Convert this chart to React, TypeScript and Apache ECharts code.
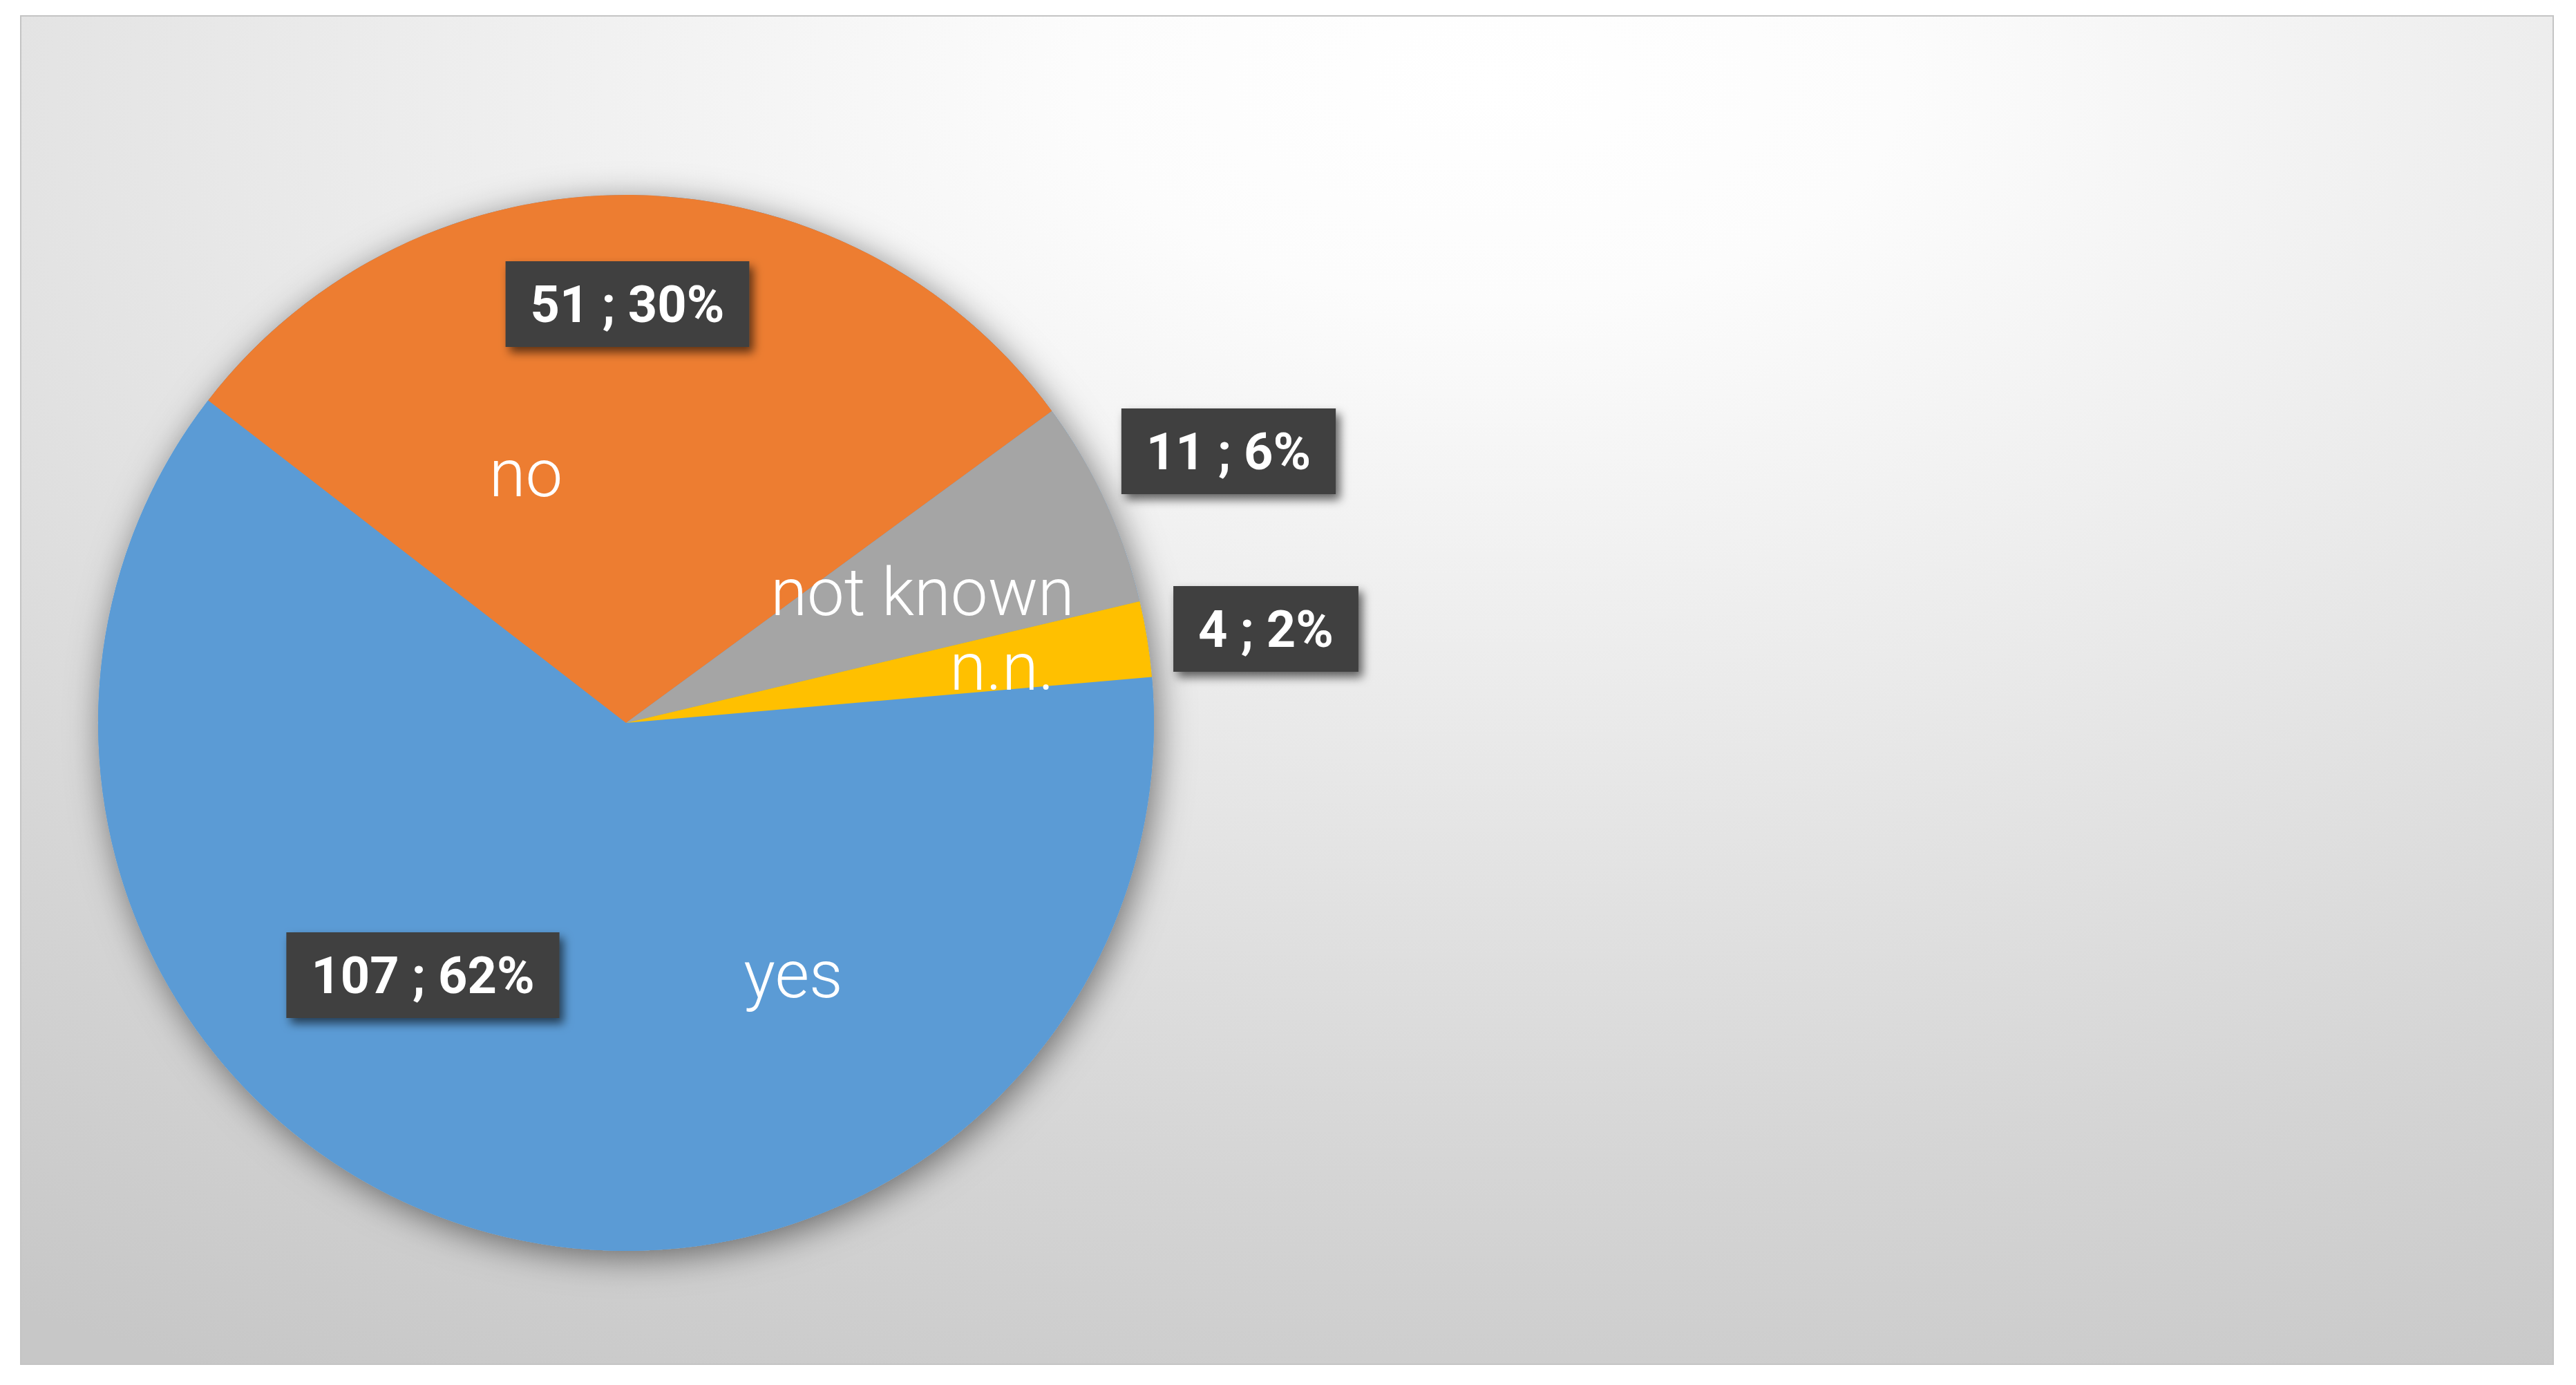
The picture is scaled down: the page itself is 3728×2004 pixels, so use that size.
import React, { useEffect, useRef } from 'react';
import * as echarts from 'echarts';

// ---- data ----
const categories = ['yes', 'no', 'not known', 'n.n.'];
const counts = [107, 51, 11, 4];
const sliceColors = ['#5B9BD5', '#ED7D31', '#A5A5A5', '#FFC000'];

// ---- layout (label placements, pixels) ----
const nameLabelPos = [
  [1148, 1410],
  [761, 685],
  [1335, 857],
  [1450, 965],
];
const valueLabelPos = [
  [612, 1411],
  [908, 440],
  [1778, 653],
  [1832, 910],
];

const PIE_CENTER = [906, 1046];
const PIE_RADIUS = 764;

export default function App() {
  const ref = useRef<HTMLDivElement>(null);

  useEffect(() => {
    const chart = echarts.init(ref.current as HTMLDivElement, null, { renderer: 'svg' });
    const total = counts.reduce((a, b) => a + b, 0);
    const data = categories.map((name, i) => ({
      name,
      value: counts[i],
      itemStyle: { color: sliceColors[i] },
    }));

    chart.setOption({
      animation: false,
      backgroundColor: '#ffffff',
      graphic: [
        {
          type: 'rect',
          z: -10,
          silent: true,
          shape: { x: 30, y: 23, width: 3665, height: 1951 },
          style: {
            fill: new echarts.graphic.RadialGradient(0.58, 0.05, 1.08, [
              { offset: 0, color: '#ffffff' },
              { offset: 0.15, color: '#fcfcfc' },
              { offset: 0.45, color: '#e9e9e9' },
              { offset: 0.75, color: '#d5d5d5' },
              { offset: 1, color: '#c7c7c7' },
            ]),
            stroke: '#c4c4c4',
            lineWidth: 2,
          },
        },
      ],
      series: [
        {
          type: 'pie',
          name: 'shadow',
          silent: true,
          z: 1,
          center: PIE_CENTER,
          radius: PIE_RADIUS,
          data: [{ name: 'total', value: total }],
          label: { show: false },
          labelLine: { show: false },
          itemStyle: {
            color: '#5B9BD5',
            shadowBlur: 50,
            shadowColor: 'rgba(0,0,0,0.5)',
            shadowOffsetX: 6,
            shadowOffsetY: 10,
          },
        },
        {
          type: 'pie',
          name: 'names',
          z: 2,
          center: PIE_CENTER,
          radius: PIE_RADIUS,
          startAngle: 5,
          clockwise: true,
          percentPrecision: 0,
          data,
          itemStyle: { borderWidth: 0 },
          label: {
            show: true,
            position: 'inside',
            formatter: '{b}',
            color: '#ffffff',
            fontFamily: 'Roboto',
            fontWeight: 300,
            fontSize: 96,
          },
          labelLine: { show: false },
          labelLayout: (p: any) => {
            const pos = nameLabelPos[p.dataIndex];
            return { x: pos[0], y: pos[1], align: 'center', verticalAlign: 'middle' };
          },
          emphasis: { disabled: true },
        },
        {
          type: 'pie',
          name: 'values',
          z: 3,
          silent: true,
          center: PIE_CENTER,
          radius: PIE_RADIUS,
          startAngle: 5,
          clockwise: true,
          percentPrecision: 0,
          data: categories.map((name, i) => ({ name, value: counts[i] })),
          itemStyle: { color: 'rgba(0,0,0,0)', borderWidth: 0 },
          label: {
            show: true,
            position: 'inside',
            formatter: (p: any) => `${p.value} ; ${p.percent}%`,
            color: '#ffffff',
            fontFamily: 'Roboto',
            fontWeight: 'bold',
            fontSize: 74,
            lineHeight: 68,
            backgroundColor: '#404040',
            padding: [28, 36],
            shadowBlur: 14,
            shadowColor: 'rgba(0,0,0,0.6)',
            shadowOffsetX: 6,
            shadowOffsetY: 8,
          },
          labelLine: { show: false },
          labelLayout: (p: any) => {
            const pos = valueLabelPos[p.dataIndex];
            return { x: pos[0], y: pos[1], align: 'center', verticalAlign: 'middle' };
          },
          emphasis: { disabled: true },
        },
      ],
    });

    return () => chart.dispose();
  }, []);

  return (
    <div
      ref={ref}
      style={{ position: 'fixed', left: 0, top: 0, width: 3728, height: 2004 }}
    />
  );
}
